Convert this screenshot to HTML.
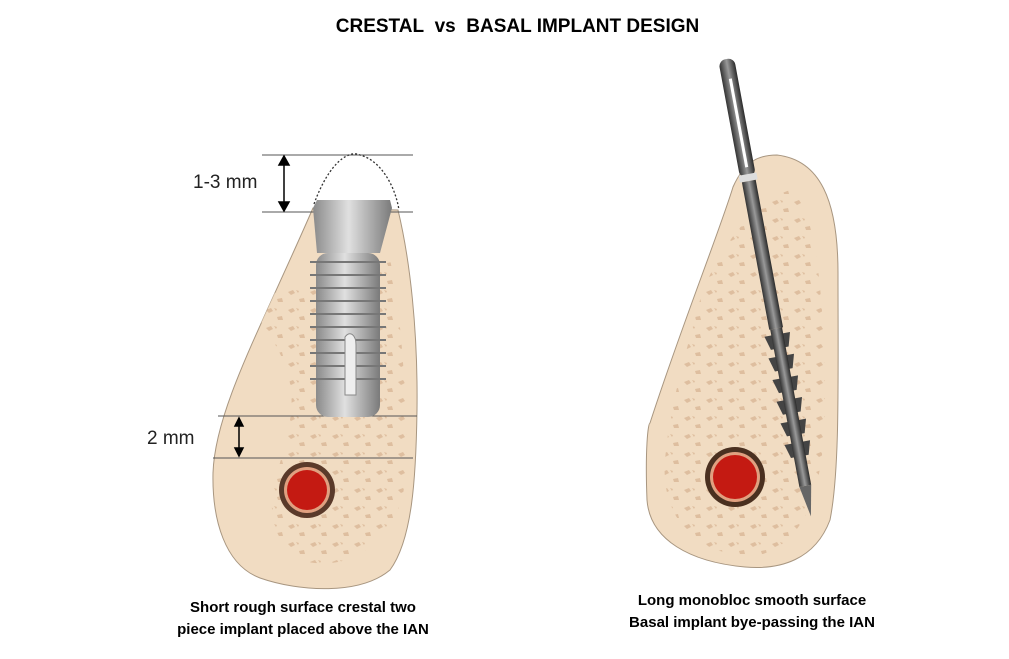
<!DOCTYPE html>
<html><head><meta charset="utf-8"><style>
body{margin:0;background:#fff;width:1009px;height:659px;overflow:hidden;position:relative;font-family:"Liberation Sans",Arial,sans-serif}
.t{position:absolute;font-weight:bold;color:#000;text-align:center;white-space:nowrap}
</style></head><body>
<svg width="1009" height="659" style="position:absolute;left:0;top:0">
<defs>
<pattern id="sp" width="22" height="18" patternUnits="userSpaceOnUse">
<rect width="22" height="18" fill="#f1dcc2"/>
<path d="M2 4 l5 -2 l2 3 l-4 2z M13 11 l5 -1 l1 4 l-5 0z M10 2 l3 1 l-1 2z" fill="#d9b796"/>
</pattern>
<clipPath id="cl"><path d="M313 208 L398 210 C410 260 418 330 417 410 C416 480 412 540 390 570 C360 595 300 592 260 578 C225 565 212 520 213 473 C215 410 260 330 313 208Z"/></clipPath>
<clipPath id="cr"><path d="M777 155 C820 160 838 200 838 273 C838 380 840 470 830 520 C815 560 780 570 745 567 C690 562 650 540 647 500 C645 450 648 423 650 423 C680 330 720 230 733 187 C745 160 760 155 777 155Z"/></clipPath>
<linearGradient id="ti" x1="0" x2="1"><stop offset="0" stop-color="#8a8a8a"/><stop offset=".45" stop-color="#e0e0e0"/><stop offset="1" stop-color="#7a7a7a"/></linearGradient>
<linearGradient id="dk" x1="0" x2="1"><stop offset="0" stop-color="#333"/><stop offset=".5" stop-color="#999"/><stop offset="1" stop-color="#2a2a2a"/></linearGradient>
</defs>
<!-- left bone -->
<path d="M313 208 L398 210 C410 260 418 330 417 410 C416 480 412 540 390 570 C360 595 300 592 260 578 C225 565 212 520 213 473 C215 410 260 330 313 208Z" fill="#f1dcc2" stroke="#a89680" stroke-width="1"/>
<g clip-path="url(#cl)"><path d="M250 300 C260 330 300 360 290 420 C280 480 250 520 300 560 C350 575 400 540 405 480 C410 420 400 300 390 260Z" fill="url(#sp)" opacity=".8"/></g>
<!-- lines -->
<g stroke="#555" stroke-width="1">
<line x1="262" y1="155" x2="413" y2="155"/><line x1="262" y1="212" x2="413" y2="212"/>
<line x1="218" y1="416" x2="417" y2="416"/><line x1="213" y1="458" x2="413" y2="458"/>
</g>
<path d="M314 204 C330 160 350 150 360 155 C380 160 395 185 399 210" fill="none" stroke="#333" stroke-dasharray="2,2" stroke-width="1.3"/>
<g stroke="#000" stroke-width="1.5" fill="#000">
<line x1="284" y1="162" x2="284" y2="205"/><path d="M279 165 L284 156 L289 165Z"/><path d="M279 202 L284 211 L289 202Z"/>
<line x1="239" y1="423" x2="239" y2="451"/><path d="M235 426 L239 418 L243 426Z"/><path d="M235 448 L239 456 L243 448Z"/>
</g>
<!-- crestal implant -->
<path d="M317 200 L390 200 L392 208 L380 253 L317 253 L313 208Z" fill="url(#ti)"/>
<rect x="316" y="253" width="64" height="164" rx="12" fill="url(#ti)"/>
<g stroke="#777" stroke-width="2">
<line x1="310" y1="262" x2="386" y2="262"/><line x1="310" y1="275" x2="386" y2="275"/><line x1="310" y1="288" x2="386" y2="288"/><line x1="310" y1="301" x2="386" y2="301"/><line x1="310" y1="314" x2="386" y2="314"/><line x1="310" y1="327" x2="386" y2="327"/><line x1="310" y1="340" x2="386" y2="340"/><line x1="310" y1="353" x2="386" y2="353"/><line x1="310" y1="366" x2="386" y2="366"/><line x1="310" y1="379" x2="386" y2="379"/>
</g>
<path d="M345 337 C350 330 356 335 356 345 L356 395 L345 395Z" fill="#eee" stroke="#888"/>
<!-- left nerve -->
<circle cx="307" cy="490" r="28" fill="#5a3a2a"/><circle cx="307" cy="490" r="23" fill="#e0a080"/><circle cx="307" cy="490" r="20" fill="#c41a12"/>
<!-- right bone -->
<path d="M777 155 C820 160 838 200 838 273 C838 380 840 470 830 520 C815 560 780 570 745 567 C690 562 650 540 647 500 C645 450 648 423 650 423 C680 330 720 230 733 187 C745 160 760 155 777 155Z" fill="#f1dcc2" stroke="#a89680"/>
<g clip-path="url(#cr)"><path d="M700 300 C720 240 760 200 790 190 C815 200 825 300 825 400 C825 480 810 540 760 555 C700 560 660 520 665 460 C670 400 690 340 700 300Z" fill="url(#sp)" opacity=".8"/></g>
<circle cx="735" cy="477" r="30" fill="#4a3020"/><circle cx="735" cy="477" r="25" fill="#e0a080"/><circle cx="735" cy="477" r="22" fill="#c41a12"/>
<!-- basal implant -->
<g transform="rotate(-10.5 770 290)">
<rect x="761" y="55" width="16" height="120" rx="7" fill="url(#dk)"/>
<rect x="768" y="75" width="3" height="90" fill="#fff"/>
<rect x="760" y="172" width="18" height="7" fill="#ddd"/>
<rect x="762" y="179" width="14" height="150" fill="url(#dk)"/>
<g fill="#444">
<path d="M756 335 l26 0 l-4 14 l-18 0z"/><path d="M756 357 l26 0 l-4 14 l-18 0z"/><path d="M756 379 l26 0 l-4 14 l-18 0z"/><path d="M756 401 l26 0 l-4 14 l-18 0z"/><path d="M756 423 l26 0 l-4 14 l-18 0z"/><path d="M756 445 l26 0 l-4 14 l-18 0z"/>
</g>
<rect x="763" y="329" width="12" height="160" fill="url(#dk)"/>
<path d="M763 489 L775 489 L769 520Z" fill="#666"/>
</g>
</svg>
<div class="t" style="left:0;width:1035px;top:16px;font-size:19px">CRESTAL&nbsp; vs&nbsp; BASAL IMPLANT DESIGN</div>
<div style="position:absolute;left:193px;top:172px;font-size:19px;color:#222">1-3 mm</div>
<div style="position:absolute;left:147px;top:428px;font-size:19px;color:#222">2 mm</div>
<div class="t" style="left:153px;width:300px;top:597px;font-size:15px;line-height:22px">Short rough surface crestal two<br>piece implant placed above the IAN</div>
<div class="t" style="left:602px;width:300px;top:590px;font-size:15px;line-height:22px">Long monobloc smooth surface<br>Basal implant bye-passing the IAN</div>
</body></html>
